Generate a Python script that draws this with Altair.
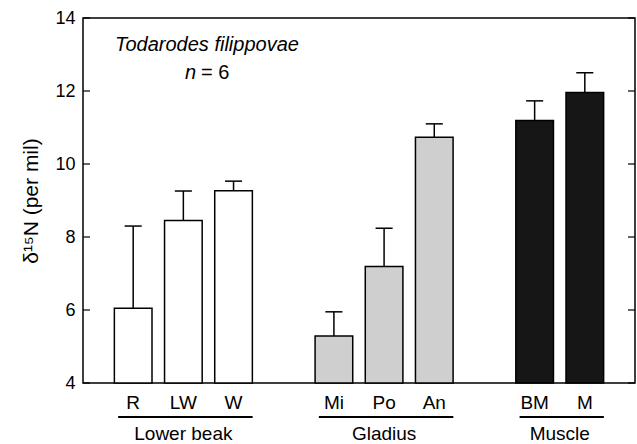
import altair as alt
import pandas as pd

labels = ["R", "LW", "W", "Mi", "Po", "An", "BM", "M"]
positions = [1, 2, 3, 5, 6, 7, 9, 10]
means = [6.05, 8.45, 9.27, 5.29, 7.19, 10.73, 11.19, 11.96]
uppers = [8.30, 9.26, 9.53, 5.95, 8.24, 11.10, 11.73, 12.50]
groups = ["Lower beak"] * 3 + ["Gladius"] * 3 + ["Muscle"] * 2
group_names = ["Lower beak", "Gladius", "Muscle"]
group_colors = ["#ffffff", "#cfcfcf", "#161616"]
y_ticks = [4, 6, 8, 10, 12, 14]
species = ["Todarodes filippovae"]
n_text = ["n", "= 6"]

FONT = "Liberation Sans"
W, H = 552, 365

df = pd.DataFrame(dict(label=labels, pos=positions, mean=means, upper=uppers, group=groups))
ticks_df = pd.DataFrame(dict(t=y_ticks))

xs = alt.Scale(domain=[0, 11])
ys = alt.Scale(domain=[4, 14], zero=False, nice=False)
yaxis = alt.Axis(values=y_ticks, ticks=False, domain=False, grid=False,
                 labelFontSize=18, labelPadding=8, labelColor="black",
                 title="δ¹⁵N (per mil)", titleFontSize=21, titleFontWeight="normal",
                 titleColor="black", titlePadding=13)

base = alt.Chart(df)

bars = base.transform_calculate(
    x0="datum.pos - 0.375", x1="datum.pos + 0.375"
).mark_bar(stroke="black", strokeWidth=1.5).encode(
    x=alt.X("x0:Q", scale=xs, axis=None),
    x2="x1:Q",
    y=alt.Y("mean:Q", scale=ys, axis=yaxis),
    y2=alt.datum(4),
    fill=alt.Fill("group:N", scale=alt.Scale(domain=group_names, range=group_colors), legend=None),
)

stems = base.mark_rule(color="black", strokeWidth=1.5).encode(
    x=alt.X("pos:Q", scale=xs, axis=None),
    y=alt.Y("mean:Q", scale=ys, axis=yaxis),
    y2="upper:Q",
)

caps = base.transform_calculate(
    c0="datum.pos - 0.17", c1="datum.pos + 0.17"
).mark_rule(color="black", strokeWidth=1.5).encode(
    x=alt.X("c0:Q", scale=xs, axis=None),
    x2="c1:Q",
    y=alt.Y("upper:Q", scale=ys, axis=yaxis),
)

left_ticks = alt.Chart(ticks_df).mark_rule(color="black", strokeWidth=1.2).encode(
    x=alt.value(0), x2=alt.value(7),
    y=alt.Y("t:Q", scale=ys, axis=yaxis),
)
right_ticks = alt.Chart(ticks_df).mark_rule(color="black", strokeWidth=1.2).encode(
    x=alt.value(W), x2=alt.value(W - 7),
    y=alt.Y("t:Q", scale=ys, axis=yaxis),
)

cat_labels = base.mark_text(fontSize=19, baseline="middle", font=FONT, color="black").encode(
    x=alt.X("pos:Q", scale=xs, axis=None),
    y=alt.value(385),
    text="label:N",
)

group_agg = base.transform_aggregate(
    lo="min(pos)", hi="max(pos)", groupby=["group"]
).transform_calculate(
    l0="datum.lo - 0.3", l1="datum.hi + 0.38", mid="(datum.lo + datum.hi) / 2"
)

group_lines = group_agg.mark_rule(color="black", strokeWidth=2).encode(
    x=alt.X("l0:Q", scale=xs, axis=None),
    x2="l1:Q",
    y=alt.value(399),
)

group_text = group_agg.mark_text(fontSize=19, baseline="middle", font=FONT, color="black").encode(
    x=alt.X("mid:Q", scale=xs, axis=None),
    y=alt.value(416),
    text="group:N",
)

species_text = alt.Chart(pd.DataFrame(dict(t=species))).mark_text(
    fontSize=20, fontStyle="italic", font=FONT, baseline="middle", align="center", color="black"
).encode(x=alt.value(124), y=alt.value(27), text="t:N")

n_italic = alt.Chart(pd.DataFrame(dict(t=[n_text[0]]))).mark_text(
    fontSize=20, fontStyle="italic", font=FONT, baseline="middle", align="left", color="black"
).encode(x=alt.value(102), y=alt.value(55), text="t:N")

n_rest = alt.Chart(pd.DataFrame(dict(t=[n_text[1]]))).mark_text(
    fontSize=20, font=FONT, baseline="middle", align="left", color="black"
).encode(x=alt.value(118), y=alt.value(55), text="t:N")

chart = alt.layer(
    bars, stems, caps, left_ticks, right_ticks, cat_labels, group_lines, group_text,
    species_text, n_italic, n_rest
).properties(
    width=W, height=H,
    autosize=alt.AutoSizeParams(type="none"),
    padding={"left": 83, "top": 18, "right": 2, "bottom": 61},
).configure_view(
    stroke="black", strokeWidth=1.5
).configure_axis(
    labelFont=FONT, titleFont=FONT
).configure_text(font=FONT)

chart.save("out.html", embed_options={"renderer": "svg", "actions": False})
